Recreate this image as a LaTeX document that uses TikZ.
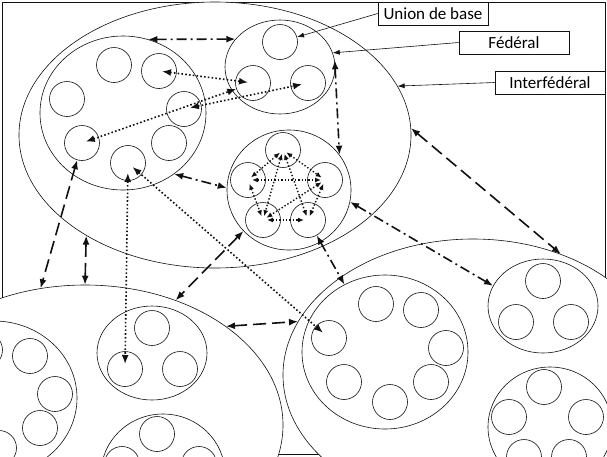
\documentclass[tikz,border=0pt]{standalone}
\usepackage{fontspec}
\setmainfont{Carlito}
\usetikzlibrary{shapes.geometric,arrows.meta}
\definecolor{Ink}{HTML}{111111}

% circle layouts inside a federal ellipse: index/dx/dy
\def\layseven{1/-9/-48,2/36/-42,3/-56/-14,4/61/-4,5/-41/30,6/46/30,7/5/50}
\def\layfive{1/-6/-40,2/-41/-10,3/36/-10,4/-26/30,5/19/30}
\def\laythree{1/0/-25,2/-27/16,3/28/16}

\begin{document}
\begin{tikzpicture}[x=1pt,y=-1pt,
        inter/.style={draw=Ink,ellipse,fill=white,inner sep=0pt,line width=.6pt},
        fedbig/.style={inter,minimum width=166pt,minimum height=154pt},
        fedmid/.style={inter,minimum width=124pt,minimum height=120pt},
        fedsmall/.style={inter,minimum width=110pt,minimum height=94pt},
        cell/.style={draw=Ink,circle,minimum size=35pt,inner sep=0pt,line width=.6pt},
        lbl/.style={draw=Ink,fill=white,minimum width=110pt,minimum height=23pt,inner sep=0pt,
                    font=\fontsize{17}{19}\selectfont,line width=.6pt},
        lblarr/.style={-{Latex[length=7pt,width=5pt]},line width=.6pt,Ink},
        tip/.style={{Latex[length=9pt,width=7pt]}-{Latex[length=9pt,width=7pt]},line width=1.6pt,Ink},
        longdash/.style={tip,dash pattern=on 13pt off 6pt},
        dashdot/.style={tip,dash pattern=on 10pt off 4pt on 2pt off 4pt},
        dotarr/.style={tip,dash pattern=on 1.6pt off 2.2pt},
        celarr/.style={{Latex[length=6pt,width=5pt]}-{Latex[length=6pt,width=5pt]},line width=1.4pt,Ink,
                       dash pattern=on 1.4pt off 2pt,shorten <=4pt,shorten >=4pt}
      ]
        \useasboundingbox (0,0) rectangle (607,456);
        \draw[Ink,line width=.6pt] (2,2) rectangle (605,454);

        % interfederal ellipses
        \node[inter,minimum width=392pt,minimum height=266pt] (interA) at (215,135) {};
        \node[inter,minimum width=396pt,minimum height=280pt] (interB) at (85,425) {};
        \node[inter,minimum width=380pt,minimum height=272pt] (interC) at (473,375) {};

        % federal ellipses
        \node[fedbig] (fedA) at (123,113) {};
        \node[fedsmall] (fedB) at (280,67) {};
        \node[fedmid] (fedC) at (289,190) {};
        \node[fedbig] (fedD) at (385,352) {};
        \node[fedsmall] (fedE) at (543,306) {};
        \node[fedmid] (fedF) at (550,427) {};
        \node[fedbig] (fedG) at (-6,398) {};
        \node[fedsmall] (fedH) at (152,353) {};
        \node[fedmid] (fedK) at (163,474) {};

        % base unions
        \foreach \f/\c in {fedA/a,fedD/d,fedG/g}
          \foreach \n/\dx/\dy in \layseven
            \node[cell] (\c\n) at ([shift={(\dx,\dy)}]\f) {};
        \foreach \f/\c in {fedC/c,fedF/f,fedK/k}
          \foreach \n/\dx/\dy in \layfive
            \node[cell] (\c\n) at ([shift={(\dx,\dy)}]\f) {};
        \foreach \f/\c in {fedB/b,fedE/e,fedH/h}
          \foreach \n/\dx/\dy in \laythree
            \node[cell] (\c\n) at ([shift={(\dx,\dy)}]\f) {};

        % labels
        \node[lbl] (lblU) at (433,13.5) {Union de base};
        \node[lbl] (lblF) at (514,42.5) {Fédéral};
        \node[lbl] (lblI) at (550,82.5) {Interfédéral};
        \draw[lblarr] (lblU.west) -- (b1);
        \draw[lblarr] (lblF.west) -- (fedB.15);
        \draw[lblarr] (lblI.west) -- (interA.15);

        % links
        \draw[dashdot] (fedA.71) -- (fedB.148);
        \draw[dotarr,shorten <=3pt,shorten >=5pt] (a2.center) -- (b2.center);
        \draw[dotarr,shorten <=4pt] (a5.center) -- (b2);
        \draw[dotarr,shorten <=6pt,shorten >=6pt] (a4.center) -- (b3.center);
        \draw[dotarr,shorten <=10pt,shorten >=5pt] (a7.center) -- (h2.center);
        \draw[dotarr,shorten <=6pt,shorten >=8pt] (a7.center) -- (d3.center);
        \draw[dashdot] (fedA.-50) -- (fedC.178);
        \draw[dashdot] (fedB.7) -- (fedC.35);
        \draw[longdash] (interA.2) -- (interC.54);
        \draw[dashdot] (fedC.-11) -- (fedE.158);
        \draw[dashdot] (c5) -- (fedD.121);
        \draw[longdash] (fedC.222) -- (interB.54);
        \draw[longdash] (interB.35) -- (interC.163);
        \draw[longdash] (a5) -- (interB.108);
        \draw[longdash] (interA.218) -- (interB.90);
        \foreach \p/\q in {c1/c2,c1/c3,c1/c4,c1/c5,c2/c3,c2/c4,c3/c4,c3/c5,c4/c5}
          \draw[celarr] (\p.center) -- (\q.center);
      \end{tikzpicture}
\end{document}
